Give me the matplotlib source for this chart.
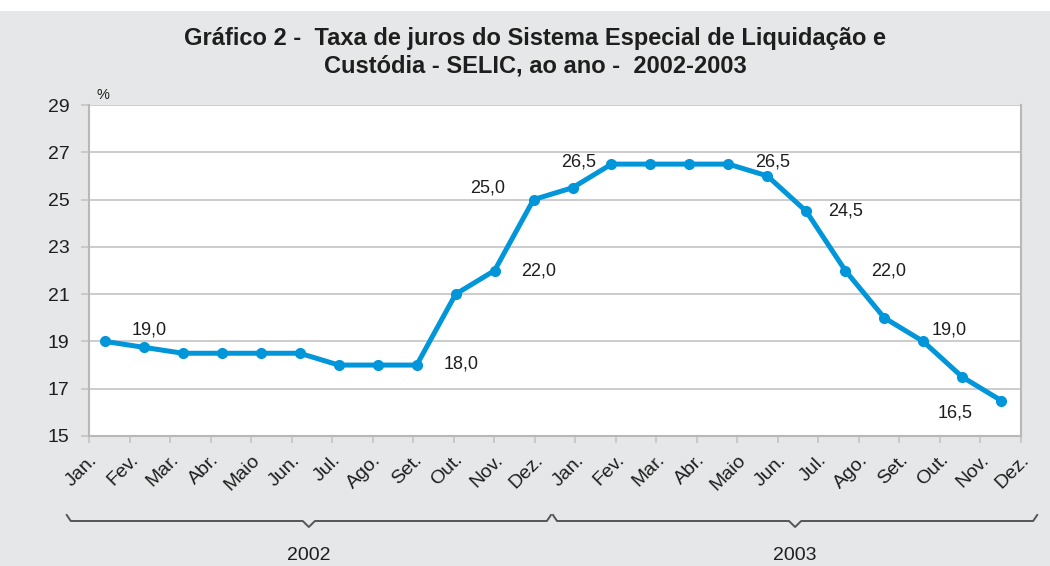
import matplotlib.pyplot as plt
import numpy as np

plt.rcParams['font.family'] = ['Liberation Sans', 'DejaVu Sans']

# SELIC, % ao ano, reunioes 2002-2003
months = ['Jan.', 'Fev.', 'Mar.', 'Abr.', 'Maio', 'Jun.',
          'Jul.', 'Ago.', 'Set.', 'Out.', 'Nov.', 'Dez.'] * 2
years = ['2002', '2003']
selic = [19.0, 18.75, 18.5, 18.5, 18.5, 18.5, 18.0, 18.0, 18.0, 21.0, 22.0, 25.0,
         25.5, 26.5, 26.5, 26.5, 26.5, 26.0, 24.5, 22.0, 20.0, 19.0, 17.5, 16.5]
# (indice do ponto, texto)
labels = [(1, '19,0'), (8, '18,0'), (11, '25,0'), (10, '22,0'), (13, '26,5'),
          (17, '26,5'), (18, '24,5'), (19, '22,0'), (21, '19,0'), (23, '16,5')]
label_offsets = {1: (5, 17), 8: (44, 1), 11: (-46, 12), 10: (44, 0), 13: (-33, 2),
                 17: (5, 14), 18: (39, 0), 19: (43, 0), 21: (26, 11), 23: (-46, -12)}

BG = '#e6e7e8'
BLUE = '#0096d9'
GRID = '#c4c4c4'
TXT = '#1e1e1e'

fig = plt.figure(figsize=(10.5, 5.66), dpi=100)
fig.patch.set_facecolor('white')
fig.patches.append(plt.Rectangle((0, 0), 1, 1 - 11 / 566, transform=fig.transFigure,
                                 facecolor=BG, edgecolor='none', zorder=-10))

ax = fig.add_axes([89 / 1050, 130 / 566, 932 / 1050, 331 / 566])
ax.set_facecolor('white')

x = np.arange(len(selic))
ax.plot(x, selic, color=BLUE, lw=3.6, marker='o', ms=7, zorder=3, clip_on=False)

for i, txt in labels:
    dx, dy = label_offsets[i]
    ax.annotate(txt, (x[i], selic[i]), xytext=(dx, dy), textcoords='offset pixels',
                ha='center', va='center', fontsize=13, color=TXT)

x0, x1 = -0.41, 23.51
ax.set_xlim(x0, x1)
ax.set_ylim(15, 29)
ax.set_yticks(np.arange(15, 30, 2))
ticks = np.linspace(x0, x1, len(months))
ax.set_xticks(ticks)
ax.set_xticklabels(months, rotation=45, ha='right', rotation_mode='anchor',
                   fontsize=14, color=TXT)
ax.tick_params(axis='y', labelsize=14, colors=TXT, length=6, width=1.2,
               color=GRID, pad=8)
ax.tick_params(axis='x', length=5, width=1.2, color=GRID, pad=6)
ax.grid(axis='y', color=GRID, lw=1.2)
ax.set_axisbelow(True)
for s in ['left', 'bottom', 'right']:
    ax.spines[s].set_color('#b8b8b8')
    ax.spines[s].set_linewidth(1.5)
ax.spines['top'].set_visible(False)

ax.text(0.008, 1.01, '%', transform=ax.transAxes, fontsize=10.5, color=TXT,
        ha='left', va='bottom')

# chaves dos anos
step = ticks[1] - ticks[0]
trans = ax.get_xaxis_transform()
for k, yr in enumerate(years):
    a = ticks[12 * k] - 0.55 * step
    b = ticks[12 * k + 11] + 0.4 * step
    m = (a + b) / 2
    yb = -85 / 331
    up = 6 / 331
    tip = 6 / 331
    bx = [a, a + 0.1 * step, m - 0.15 * step, m, m + 0.15 * step, b - 0.1 * step, b]
    by = [yb + up, yb, yb, yb - tip, yb, yb, yb + up]
    ax.plot(bx, by, color='#555555', lw=1.4, transform=trans, clip_on=False)
    ax.text(m, -119 / 331, yr, transform=trans, ha='center', va='center',
            fontsize=14, color=TXT)

fig.text(535 / 1050, 1 - 38 / 566, 'Gráfico 2 -  Taxa de juros do Sistema Especial de Liquidação e',
         ha='center', va='center', fontsize=17, fontweight='bold', color=TXT)
fig.text(535 / 1050, 1 - 66 / 566, 'Custódia - SELIC, ao ano -  2002-2003',
         ha='center', va='center', fontsize=17, fontweight='bold', color=TXT)

fig.savefig('out.png', dpi=100, facecolor=fig.get_facecolor())
